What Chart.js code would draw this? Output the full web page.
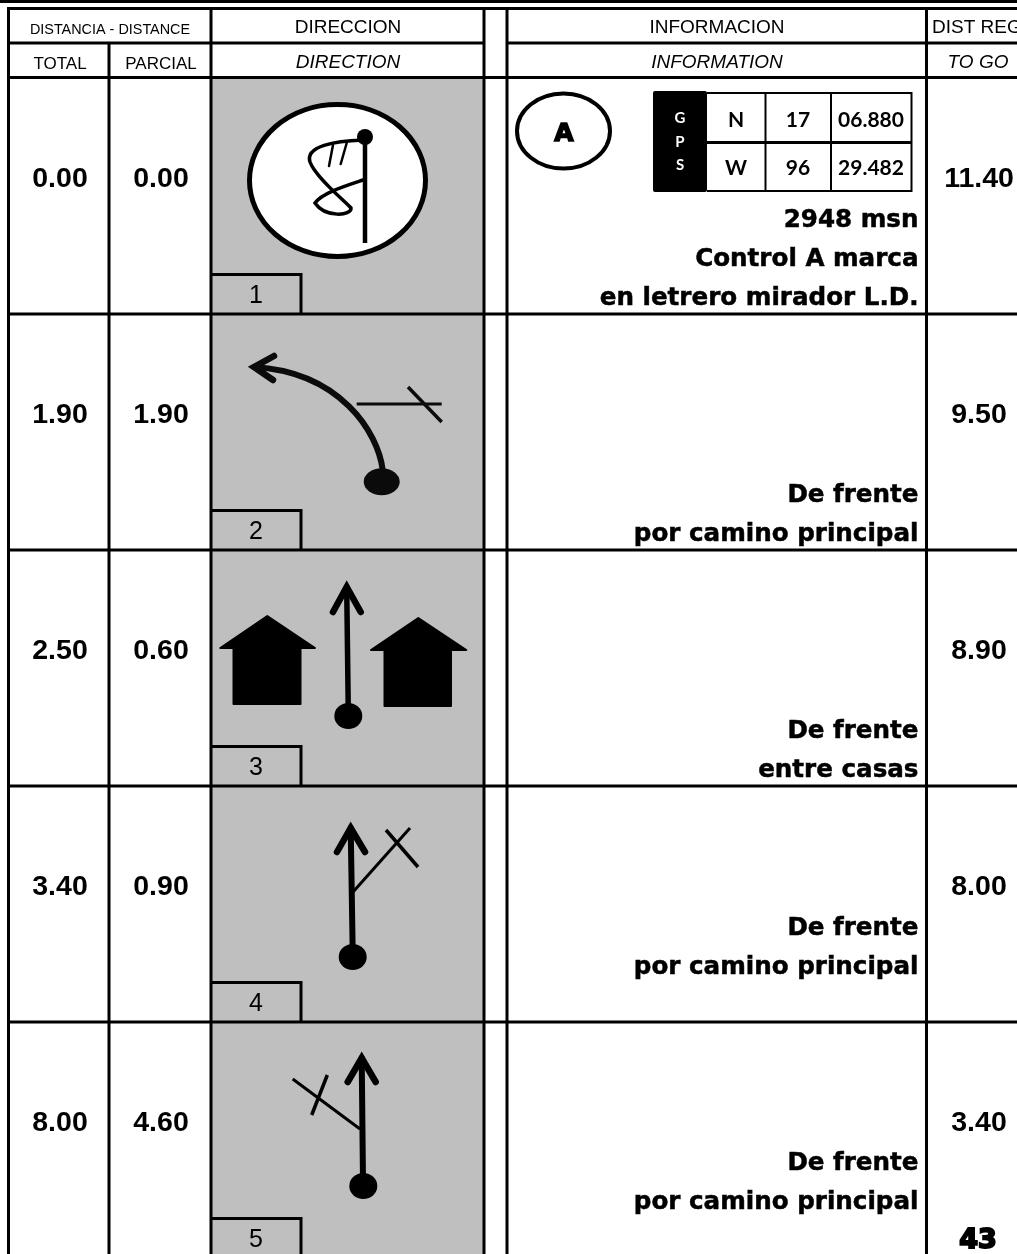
<!DOCTYPE html>
<html>
<head>
<meta charset="utf-8">
<title>Roadbook</title>
<style>
html, body { margin: 0; padding: 0; background: #fff; overflow: hidden; }
#wrap { width: 1017px; height: 1254px; overflow: hidden; }
canvas { display: block; }
</style>
<script src="https://cdn.jsdelivr.net/npm/chart.js@4"></script>
</head>
<body>
<div id="wrap"><canvas id="roadbook" width="1017" height="1258"></canvas></div>
<script>
// Values
const rows = ['1', '2', '3', '4', '5'];
const totals = ['0.00', '1.90', '2.50', '3.40', '8.00'];
const parciales = ['0.00', '1.90', '0.60', '0.90', '4.60'];
const toGo = ['11.40', '9.50', '8.90', '8.00', '3.40'];
const infoLines = [
    ['2948 msn', 'Control A marca', 'en letrero mirador L.D.'],
    ['De frente', 'por camino principal'],
    ['De frente', 'entre casas'],
    ['De frente', 'por camino principal'],
    ['De frente', 'por camino principal']
];
const gpsLabels = ['G', 'P', 'S'];
const gpsCells = [['N', '17', '06.880'], ['W', '96', '29.482']];
const pageNumber = '43';

const GREY = '#bfbfbf';
const SANS = '"Liberation Sans", Arial, sans-serif';
const WIDE = '"DejaVu Sans", Verdana, sans-serif';
const CALIBRI = 'Lato, "Open Sans", sans-serif';

// Helpers for drawing on the canvas
function line(ctx, pts, width) {
    ctx.beginPath();
    ctx.lineWidth = width;
    pts.forEach((p, i) => i ? ctx.lineTo(p[0], p[1]) : ctx.moveTo(p[0], p[1]));
    ctx.stroke();
}

function text(ctx, str, x, y, font, align) {
    ctx.font = font;
    ctx.textAlign = align || 'center';
    ctx.fillStyle = '#000';
    ctx.fillText(str, x, y);
}

function dot(ctx, x, y, rx, ry) {
    ctx.beginPath();
    ctx.ellipse(x, y, rx, ry || rx, 0, 0, Math.PI * 2);
    ctx.fill();
}

// The chevron is mitred, so its vertex sits a little under the visible tip
function arrow(ctx, tip, left, right, tail, width) {
    const vertex = [tip[0], tip[1] + 5];
    line(ctx, [vertex, tail], width);
    line(ctx, [left, vertex, right], 6.5);
}

function house(ctx, apex, roofL, roofR, bodyL, bodyR, bottom) {
    ctx.beginPath();
    ctx.moveTo(apex[0], apex[1]);
    ctx.lineTo(roofR, roofL[1]);
    ctx.lineTo(bodyR, roofL[1]);
    ctx.lineTo(bodyR, bottom);
    ctx.lineTo(bodyL, bottom);
    ctx.lineTo(bodyL, roofL[1]);
    ctx.lineTo(roofL[0], roofL[1]);
    ctx.closePath();
    ctx.fill();
    ctx.lineWidth = 2;
    ctx.lineJoin = 'round';
    ctx.stroke();
    ctx.lineJoin = 'miter';
}

// Icons, drawn relative to the centre of their row
const icons = [
    function (ctx) {
        ctx.fillStyle = '#fff';
        ctx.beginPath();
        ctx.ellipse(337.5, -15.5, 88, 76, 0, 0, Math.PI * 2);
        ctx.fill();
        ctx.lineWidth = 5;
        ctx.stroke();
        ctx.fillStyle = '#000';
        line(ctx, [[365, -56], [365, 47]], 4.5);
        dot(ctx, 365, -59, 8);
        ctx.lineCap = 'round';
        ctx.beginPath();
        ctx.lineWidth = 3.5;
        ctx.moveTo(363, -56);
        ctx.bezierCurveTo(335, -55, 305, -50, 310, -34);
        ctx.bezierCurveTo(316, -18, 345, 5, 351, 12);
        ctx.bezierCurveTo(352, 20, 325, 22, 315, 7);
        ctx.bezierCurveTo(322, -3, 345, -10, 363, -16);
        ctx.stroke();
        line(ctx, [[333, -51], [329, -30]], 2.5);
        line(ctx, [[346.7, -53], [340.7, -32]], 2.5);
        ctx.lineCap = 'butt';
    },
    function (ctx) {
        ctx.fillStyle = '#0b0b0b';
        ctx.strokeStyle = '#0b0b0b';
        dot(ctx, 381.7, 49.7, 18, 13.5);
        ctx.beginPath();
        ctx.lineWidth = 6;
        ctx.moveTo(382.7, 38);
        ctx.bezierCurveTo(378, 0, 340, -60, 254, -65);
        ctx.stroke();
        ctx.lineCap = 'round';
        line(ctx, [[274, -76], [254, -65], [273, -52]], 6.5);
        ctx.lineCap = 'butt';
        line(ctx, [[356.7, -28], [441.7, -28]], 3);
        line(ctx, [[408, -45], [441.7, -10]], 3.5);
        ctx.strokeStyle = '#000';
        ctx.fillStyle = '#000';
    },
    function (ctx) {
        house(ctx, [267.3, -52], [220.3, -20], 315, 233.5, 300.5, 36);
        house(ctx, [418.3, -50], [371, -18], 466.3, 384.5, 451, 38);
        ctx.lineCap = 'round';
        arrow(ctx, [346.7, -86], [333, -56], [360.7, -56], [348.3, 45], 5.5);
        ctx.lineCap = 'butt';
        dot(ctx, 348.3, 48, 14, 13);
    },
    function (ctx) {
        line(ctx, [[353, -12], [410, -76]], 3);
        line(ctx, [[386, -74], [418, -37]], 3.5);
        ctx.lineCap = 'round';
        arrow(ctx, [350.7, -81], [337, -52], [365, -52], [352.7, 48], 6);
        ctx.lineCap = 'butt';
        dot(ctx, 352.7, 53, 14, 13);
    },
    function (ctx) {
        line(ctx, [[360, -11], [292.7, -61]], 3);
        line(ctx, [[327.3, -65], [311.7, -25]], 3.5);
        ctx.lineCap = 'round';
        arrow(ctx, [361.7, -87], [347.7, -58], [375.7, -58], [363, 42], 6);
        ctx.lineCap = 'butt';
        dot(ctx, 363.3, 46, 14, 13);
    }
];

// Draws the header, rules, icons and all the cell texts
const roadbookPlugin = {
    id: 'roadbook',
    afterDatasetsDraw(chart) {
        const ctx = chart.ctx;
        const yScale = chart.scales.y;
        const top = chart.chartArea.top;
        const bottom = chart.chartArea.bottom;
        const rowH = (bottom - top) / rows.length;

        ctx.save();
        ctx.strokeStyle = '#000';
        ctx.fillStyle = '#000';
        ctx.textBaseline = 'alphabetic';

        // icons go under the badges and rules
        rows.forEach((r, i) => {
            ctx.save();
            ctx.translate(0, yScale.getPixelForValue(r));
            icons[i](ctx);
            ctx.restore();
        });

        // page rules
        line(ctx, [[0, 1.5], [1017, 1.5]], 3);
        line(ctx, [[7, 8.5], [1017, 8.5]], 3);
        line(ctx, [[7, 43], [483, 43]], 3);
        line(ctx, [[506, 43], [1017, 43]], 3);
        line(ctx, [[7, 77.5], [1017, 77.5]], 3);
        rows.forEach((r, i) => {
            const y = top + rowH * (i + 1);
            line(ctx, [[7, y], [1017, y]], 3);
        });
        line(ctx, [[8.5, 7], [8.5, bottom]], 3);
        line(ctx, [[109, 43], [109, bottom]], 3);
        [211, 484, 507, 926.5].forEach(x => line(ctx, [[x, 7], [x, bottom]], 3));

        // header texts
        text(ctx, 'DISTANCIA - DISTANCE', 110, 34, '14.4px ' + SANS);
        text(ctx, 'DIRECCION', 348, 33, '19px ' + SANS);
        text(ctx, 'INFORMACION', 717, 33, '19px ' + SANS);
        text(ctx, 'DIST REG', 932, 33, '19px ' + SANS, 'left');
        text(ctx, 'TOTAL', 60, 69, '17px ' + SANS);
        text(ctx, 'PARCIAL', 161, 69, '17px ' + SANS);
        text(ctx, 'DIRECTION', 348, 68, 'italic 19px ' + SANS);
        text(ctx, 'INFORMATION', 717, 68, 'italic 19px ' + SANS);
        text(ctx, 'TO GO', 978, 68, 'italic 19px ' + SANS);

        // row badges
        rows.forEach((r, i) => {
            const yc = yScale.getPixelForValue(r);
            line(ctx, [[211, yc + 78.5], [301, yc + 78.5], [301, yc + 118]], 3);
            text(ctx, r, 256, yc + 107, '25px ' + SANS);
        });

        // distance columns, from the hidden point datasets
        chart.data.datasets.forEach((ds, d) => {
            if (!ds.cellTexts) return;
            chart.getDatasetMeta(d).data.forEach((pt, i) => {
                text(ctx, ds.cellTexts[i], pt.x, pt.y - 9, 'bold 28.5px ' + SANS);
            });
        });

        // information lines, right aligned against the column rule
        const lift = [9, 9, 9, 48, 49];
        infoLines.forEach((lines, i) => {
            const base = top + rowH * (i + 1) - lift[i];
            lines.forEach((str, k) => {
                const y = base - (lines.length - 1 - k) * 39;
                text(ctx, str, 918.5, y, 'bold 24.6px ' + WIDE, 'right');
                ctx.lineWidth = 0.5;
                ctx.strokeText(str, 918.5, y);
            });
        });

        // control A marker
        ctx.beginPath();
        ctx.ellipse(563.5, 131, 46.5, 37.5, 0, 0, Math.PI * 2);
        ctx.lineWidth = 4;
        ctx.stroke();
        ctx.fillStyle = '#000';
        ctx.lineWidth = 1.5;
        ctx.font = 'bold 25px ' + WIDE;
        ctx.textAlign = 'center';
        ctx.fillText('A', 564, 141);
        ctx.strokeText('A', 564, 141);

        // GPS block
        ctx.beginPath();
        ctx.roundRect(653, 91, 54, 101, 2);
        ctx.fill();
        ctx.font = 'bold 15px ' + CALIBRI;
        gpsLabels.forEach((g, k) => {
            ctx.fillStyle = '#fff';
            ctx.fillText(g, 680, 123 + k * 23.5);
        });
        ctx.fillStyle = '#000';
        line(ctx, [[707, 93], [911.5, 93]], 2);
        line(ctx, [[707, 142.5], [911.5, 142.5]], 3);
        line(ctx, [[707, 191], [911.5, 191]], 2);
        [765.5, 831].forEach(x => line(ctx, [[x, 92], [x, 192]], 2));
        line(ctx, [[911.5, 92], [911.5, 192]], 2);
        const cellX = [736, 798, 871];
        const cellY = [127, 175];
        gpsCells.forEach((cells, r) => cells.forEach((c, k) => {
            text(ctx, c, cellX[k], cellY[r], 'bold 21px ' + CALIBRI);
        }));

        // page number
        ctx.font = 'bold 27px ' + WIDE;
        ctx.textAlign = 'center';
        ctx.lineWidth = 2;
        ctx.fillText(pageNumber, 978, 1248);
        ctx.strokeText(pageNumber, 978, 1248);

        ctx.restore();
    }
};

function cellPoints(x) {
    return rows.map(r => ({ x: x, y: r }));
}

new Chart(document.getElementById('roadbook'), {
    data: {
        labels: rows,
        datasets: [
            {
                type: 'bar',
                label: 'Direccion',
                data: rows.map(() => [211, 484]),
                backgroundColor: GREY,
                barPercentage: 1,
                categoryPercentage: 1
            },
            { type: 'scatter', label: 'Total', data: cellPoints(60), cellTexts: totals, pointRadius: 0 },
            { type: 'scatter', label: 'Parcial', data: cellPoints(161), cellTexts: parciales, pointRadius: 0 },
            { type: 'scatter', label: 'To go', data: cellPoints(979), cellTexts: toGo, pointRadius: 0 }
        ]
    },
    options: {
        indexAxis: 'y',
        responsive: false,
        animation: false,
        devicePixelRatio: 1,
        layout: { padding: { top: 78, left: 0, right: 0, bottom: 0 } },
        plugins: { legend: { display: false }, tooltip: { enabled: false } },
        scales: {
            x: { type: 'linear', min: 0, max: 1017, display: false },
            y: { type: 'category', labels: rows, offset: true, display: false }
        }
    },
    plugins: [roadbookPlugin]
});
</script>
</body>
</html>
